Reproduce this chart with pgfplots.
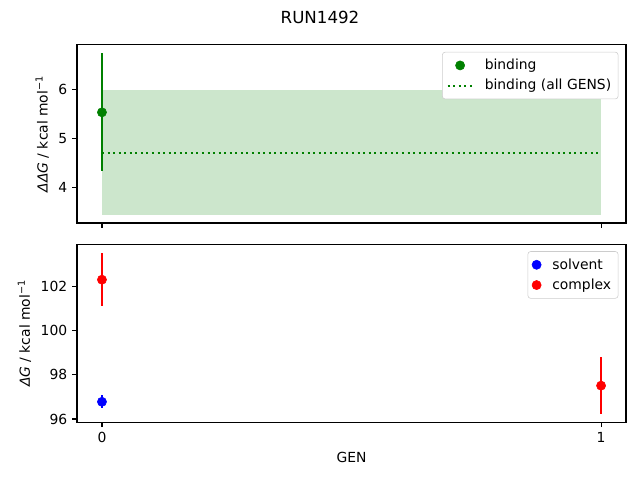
\documentclass[border=0pt]{standalone}
\usepackage{fontspec}
\setmainfont{DejaVu Sans}
\usepackage{pgfplots}
\pgfplotsset{compat=1.18}

\definecolor{mplgreen}{RGB}{0,128,0}
\definecolor{mplblue}{RGB}{0,0,255}
\definecolor{mplred}{RGB}{255,0,0}

\pgfplotsset{
  mplaxis/.style={
    scale only axis, width=395.3pt, height=128.2pt,
    xmin=-0.05, xmax=1.05,
    xtick={0,1}, tick align=outside, major tick length=3.5pt,
    xtick pos=bottom, ytick pos=left,
    axis line style={line width=0.8pt}, tick style={line width=0.8pt, black},
    /pgf/number format/assume math mode=true,
    ticklabel style={font=\fontsize{10}{12}\selectfont},
    label style={font=\fontsize{10}{12}\selectfont},
    legend cell align=left,
    legend image code/.code={%
      \draw[mark repeat=2,mark phase=2,##1] plot coordinates {(0pt,0pt) (9pt,0pt) (18pt,0pt)};},
    legend style={font=\fontsize{10}{12}\selectfont, draw=black!20, rounded corners=2pt,
      fill=white, anchor=north east,
      at={(1,1)}, xshift=-5.5pt, yshift=-5pt, inner xsep=3pt, inner ysep=3pt, row sep=1.5pt,
      /tikz/every odd column/.append style={column sep=6pt}},
  },
  ebar/.style={only marks, mark=*, mark size=3.3pt, color=#1,
    mark options={fill=#1, draw=#1},
    error bars/y dir=both, error bars/y explicit, error bars/error mark=none,
    error bars/error bar style={line width=1.5pt, #1}},
}

\begin{document}
\begin{tikzpicture}
\useasboundingbox (0,0) rectangle (460.8pt,345.6pt);
\node[font=\fontsize{12}{14}\selectfont] at (230.4pt,333.4pt) {RUN1492};

\begin{axis}[mplaxis, at={(55.44pt,185.04pt)}, anchor=south west,
  ymin=3.265, ymax=6.925, ytick={4,5,6}, xticklabels={},
  ylabel={\textit{ΔΔG} / kcal mol\textsuperscript{−1}}]
  \addplot[draw=none, fill=mplgreen, fill opacity=0.2, forget plot]
    coordinates {(0,3.43) (1,3.43) (1,6.0) (0,6.0)} -- cycle;
  \addplot[ebar=mplgreen]
    coordinates {(0,5.54) +- (0,1.215)};
  \addplot[mplgreen, line width=1.5pt, dash pattern=on 1.5pt off 2.5pt]
    coordinates {(0,4.71) (1,4.71)};
  \legend{binding, binding (all GENS)}
\end{axis}

\begin{axis}[mplaxis, at={(55.44pt,41.5pt)}, anchor=south west,
  ymin=95.85, ymax=103.9, ytick={96,98,100,102},
  xlabel={GEN},
  ylabel={\textit{ΔG} / kcal mol\textsuperscript{−1}}]
  \addplot[ebar=mplblue]
    coordinates {(0,96.78) +- (0,0.3)};
  \addplot[ebar=mplred]
    coordinates {(0,102.3) +- (0,1.2) (1,97.51) +- (0,1.29)};
  \legend{solvent, complex}
\end{axis}
\end{tikzpicture}
\end{document}
